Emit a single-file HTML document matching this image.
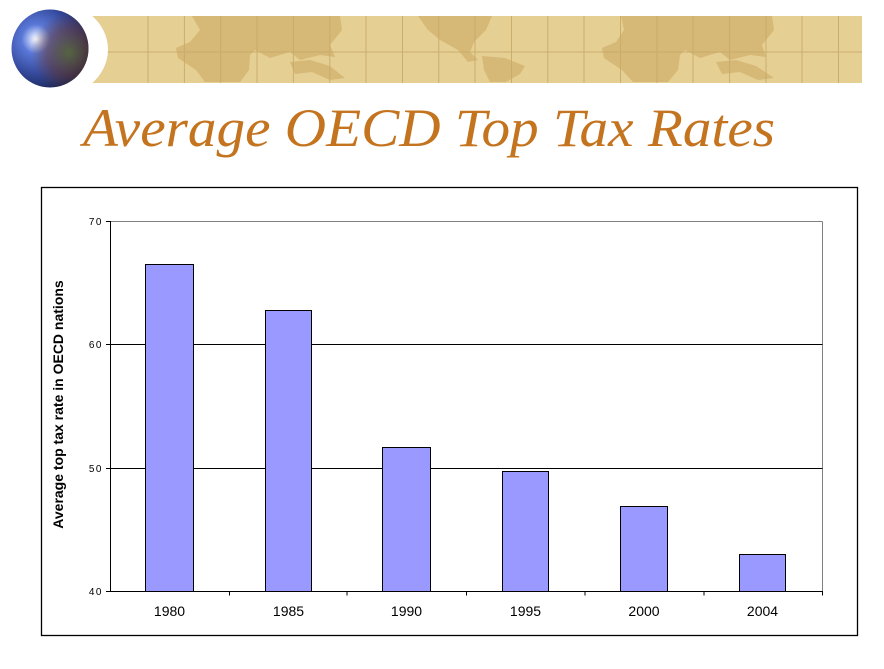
<!DOCTYPE html>
<html>
<head>
<meta charset="utf-8">
<style>
html,body{margin:0;padding:0;background:#fff;}
svg{display:block;}
</style>
</head>
<body>
<svg width="884" height="669" viewBox="0 0 884 669" xmlns="http://www.w3.org/2000/svg">
<defs>
<radialGradient id="globe" cx="0.32" cy="0.38" r="0.75">
<stop offset="0" stop-color="#ffffff"/>
<stop offset="0.08" stop-color="#c8d4f8"/>
<stop offset="0.25" stop-color="#5a78d8"/>
<stop offset="0.6" stop-color="#34489a"/>
<stop offset="1" stop-color="#141c40"/>
</radialGradient>
<radialGradient id="land" cx="0.75" cy="0.55" r="0.5">
<stop offset="0" stop-color="#5a6a30" stop-opacity="0.85"/>
<stop offset="0.6" stop-color="#6a3a30" stop-opacity="0.5"/>
<stop offset="1" stop-color="#6a3a30" stop-opacity="0"/>
</radialGradient>
</defs>

<!-- banner -->
<rect x="60" y="16" width="802" height="67" fill="#e5cf93"/>
<g fill="#d6b877">
<path d="M192 16 L340 16 L342 30 L330 45 L335 57 L320 55 L300 60 L290 52 L270 58 L255 50 L250 55 L249 70 L240 82 L205 82 L196 70 L178 58 L176 48 L190 42 L200 30 Z"/>
<path d="M290 62 L310 60 L330 66 L345 78 L330 80 L312 72 L295 74 Z"/>
<path d="M418 16 L492 16 L486 30 L474 42 L470 52 L478 60 L468 62 L458 50 L440 40 L428 30 Z"/>
<path d="M482 56 L505 58 L525 66 L520 74 L506 82 L490 82 L484 70 Z"/>
<path d="M621 16 L772 16 L774 30 L762 45 L766 57 L750 55 L730 60 L720 52 L700 58 L685 50 L680 55 L678 70 L668 82 L633 82 L622 70 L604 58 L602 48 L616 42 L624 30 Z"/>
<path d="M716 62 L736 60 L756 66 L774 78 L758 80 L740 72 L722 74 Z"/>
</g>
<g stroke="#c9aa68" stroke-width="1" opacity="0.9">
<line x1="60" y1="52" x2="862" y2="52"/>
<line x1="148" y1="16" x2="148" y2="83"/>
<line x1="184.4" y1="16" x2="184.4" y2="83"/>
<line x1="220.7" y1="16" x2="220.7" y2="83"/>
<line x1="257" y1="16" x2="257" y2="83"/>
<line x1="293.4" y1="16" x2="293.4" y2="83"/>
<line x1="329.8" y1="16" x2="329.8" y2="83"/>
<line x1="366" y1="16" x2="366" y2="83"/>
<line x1="402.5" y1="16" x2="402.5" y2="83"/>
<line x1="438.8" y1="16" x2="438.8" y2="83"/>
<line x1="475" y1="16" x2="475" y2="83"/>
<line x1="511.5" y1="16" x2="511.5" y2="83"/>
<line x1="547.8" y1="16" x2="547.8" y2="83"/>
<line x1="584" y1="16" x2="584" y2="83"/>
<line x1="620.5" y1="16" x2="620.5" y2="83"/>
<line x1="657" y1="16" x2="657" y2="83"/>
<line x1="693" y1="16" x2="693" y2="83"/>
<line x1="729.6" y1="16" x2="729.6" y2="83"/>
<line x1="766" y1="16" x2="766" y2="83"/>
<line x1="802" y1="16" x2="802" y2="83"/>
<line x1="838.5" y1="16" x2="838.5" y2="83"/>
</g>
<ellipse cx="50" cy="49.5" rx="58" ry="49" fill="#ffffff"/>
<!-- globe -->
<ellipse cx="50" cy="48.5" rx="38.5" ry="39" fill="url(#globe)"/>
<ellipse cx="50" cy="48.5" rx="38.5" ry="39" fill="url(#land)"/>

<!-- title -->
<text x="83" y="146" font-family="'Liberation Serif', serif" font-style="italic" font-size="54" fill="#c4731f" textLength="692" lengthAdjust="spacingAndGlyphs">Average OECD Top Tax Rates</text>

<!-- chart outer box -->
<rect x="41.5" y="187.5" width="816" height="448" fill="#fff" stroke="#000" stroke-width="1.3"/>

<!-- plot area -->
<line x1="110.5" y1="221.5" x2="822.5" y2="221.5" stroke="#808080" stroke-width="1"/>
<line x1="822.5" y1="221.5" x2="822.5" y2="591.5" stroke="#808080" stroke-width="1"/>
<line x1="110.5" y1="344.5" x2="822.5" y2="344.5" stroke="#000" stroke-width="1"/>
<line x1="110.5" y1="468.5" x2="822.5" y2="468.5" stroke="#000" stroke-width="1"/>

<!-- bars -->
<g fill="#9999ff" stroke="#000" stroke-width="1">
<rect x="145.5" y="264.5" width="48" height="327"/>
<rect x="265.5" y="310.5" width="46" height="281"/>
<rect x="382.5" y="447.5" width="48" height="144"/>
<rect x="502.5" y="471.5" width="46" height="120"/>
<rect x="620.5" y="506.5" width="47" height="85"/>
<rect x="739.5" y="554.5" width="46" height="37"/>
</g>

<!-- axes -->
<g stroke="#000" stroke-width="1">
<line x1="110.5" y1="221" x2="110.5" y2="592"/>
<line x1="110" y1="591.5" x2="823" y2="591.5"/>
<line x1="106" y1="221.5" x2="110.5" y2="221.5"/>
<line x1="106" y1="344.5" x2="110.5" y2="344.5"/>
<line x1="106" y1="468.5" x2="110.5" y2="468.5"/>
<line x1="106" y1="591.5" x2="110.5" y2="591.5"/>
<line x1="229.5" y1="591.5" x2="229.5" y2="595.5"/>
<line x1="347" y1="591.5" x2="347" y2="595.5"/>
<line x1="466.5" y1="591.5" x2="466.5" y2="595.5"/>
<line x1="585" y1="591.5" x2="585" y2="595.5"/>
<line x1="704" y1="591.5" x2="704" y2="595.5"/>
<line x1="822.5" y1="591.5" x2="822.5" y2="595.5"/>
</g>

<!-- y tick labels -->
<g font-family="'Liberation Sans', sans-serif" font-size="10" fill="#000" letter-spacing="1.5" text-anchor="end">
<text x="103" y="225">70</text>
<text x="103" y="348">60</text>
<text x="103" y="472">50</text>
<text x="103" y="595">40</text>
</g>

<!-- x labels -->
<g font-family="'Liberation Sans', sans-serif" font-size="14" fill="#000" text-anchor="middle">
<text x="169.5" y="616">1980</text>
<text x="288.5" y="616">1985</text>
<text x="406.5" y="616">1990</text>
<text x="525.5" y="616">1995</text>
<text x="644" y="616">2000</text>
<text x="762.5" y="616">2004</text>
</g>

<!-- y axis title -->
<text transform="translate(63,404.5) rotate(-90)" font-family="'Liberation Sans', sans-serif" font-weight="bold" font-size="14" fill="#000" text-anchor="middle">Average top tax rate in OECD nations</text>
</svg>
</body>
</html>
